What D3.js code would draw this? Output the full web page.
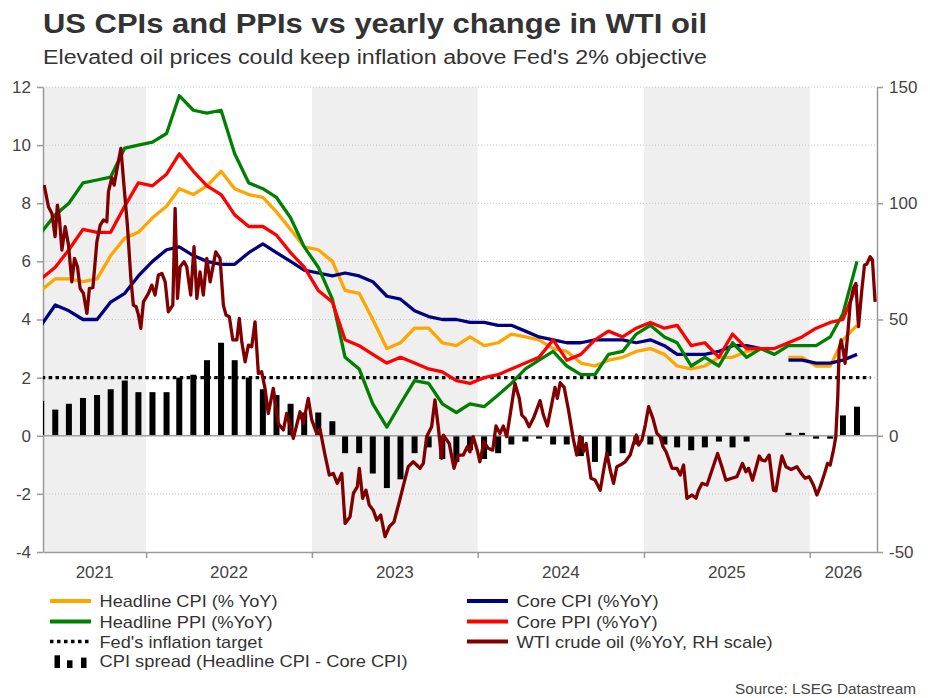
<!DOCTYPE html>
<html><head><meta charset="utf-8">
<script src="https://cdn.jsdelivr.net/npm/d3@7"></script>
<style>
body{margin:0;background:#fff}
svg{display:block}
text{font-family:"Liberation Sans",Arial,Helvetica,sans-serif}
</style>
</head><body>
<svg id="chart" width="930" height="698"></svg>
<script>
// ---------------- DATA ----------------
const months = [
 "2021-05","2021-06","2021-07","2021-08","2021-09","2021-10","2021-11","2021-12",
 "2022-01","2022-02","2022-03","2022-04","2022-05","2022-06","2022-07","2022-08","2022-09","2022-10","2022-11","2022-12",
 "2023-01","2023-02","2023-03","2023-04","2023-05","2023-06","2023-07","2023-08","2023-09","2023-10","2023-11","2023-12",
 "2024-01","2024-02","2024-03","2024-04","2024-05","2024-06","2024-07","2024-08","2024-09","2024-10","2024-11","2024-12",
 "2025-01","2025-02","2025-03","2025-04","2025-05","2025-06","2025-07","2025-08","2025-09","2025-10","2025-11","2025-12",
 "2026-01","2026-02","2026-03","2026-04"];

const headlineCPI = [
 5.0,5.4,5.4,5.3,5.4,6.2,6.8,7.0,
 7.5,7.9,8.5,8.3,8.6,9.1,8.5,8.3,8.2,7.7,7.1,6.5,
 6.4,6.0,5.0,4.9,4.0,3.0,3.2,3.7,3.7,3.2,3.1,3.4,
 3.1,3.2,3.5,3.4,3.3,3.0,2.9,2.5,2.4,2.6,2.7,2.9,
 3.0,2.8,2.4,2.3,2.4,2.7,2.7,2.9,3.0,null,2.7,2.7,
 2.4,2.4,3.3,3.8];

const coreCPI = [
 3.8,4.5,4.3,4.0,4.0,4.6,4.9,5.5,
 6.0,6.4,6.5,6.2,6.0,5.9,5.9,6.3,6.6,6.3,6.0,5.7,
 5.6,5.5,5.6,5.5,5.3,4.8,4.7,4.3,4.1,4.0,4.0,3.9,
 3.9,3.8,3.8,3.6,3.4,3.3,3.2,3.2,3.3,3.3,3.3,3.2,
 3.3,3.1,2.8,2.8,2.8,2.9,3.1,3.1,3.0,null,2.6,2.6,
 2.5,2.5,2.6,2.8];

const headlinePPI = [
 7.0,7.6,8.0,8.7,8.8,8.9,9.9,10.0,
 10.1,10.4,11.7,11.2,11.1,11.2,9.7,8.7,8.5,8.2,7.5,6.5,
 5.8,4.7,2.7,2.3,1.1,0.3,1.1,1.9,1.8,1.1,0.8,1.1,
 1.0,1.4,1.8,2.3,2.6,2.9,2.4,2.1,2.1,2.8,2.9,3.5,
 3.8,3.4,3.2,2.4,2.7,2.4,3.2,2.7,3.0,2.8,3.1,3.1,
 3.1,3.4,4.2,6.0];

const corePPI = [
 5.4,5.8,6.4,7.1,7.0,7.0,7.9,8.7,
 8.6,9.0,9.7,9.1,8.6,8.3,7.6,7.2,7.2,6.9,6.3,5.8,
 5.0,4.6,3.3,3.1,2.8,2.5,2.7,2.5,2.3,2.2,1.9,1.8,
 2.0,2.1,2.3,2.5,2.7,3.3,2.6,2.8,3.3,3.6,3.4,3.7,
 3.9,3.7,3.8,3.1,3.2,2.7,3.5,3.0,3.0,3.0,3.2,3.4,
 3.7,3.9,4.0,5.2];

const cpiSpread = [
 1.2,0.9,1.1,1.3,1.4,1.6,1.9,1.5,
 1.5,1.5,2.0,2.1,2.6,3.2,2.6,2.0,1.6,1.4,1.1,0.8,
 0.8,0.5,-0.6,-0.6,-1.3,-1.8,-1.5,-0.6,-0.4,-0.8,-0.9,-0.5,
 -0.8,-0.6,-0.3,-0.2,-0.1,-0.3,-0.3,-0.7,-0.9,-0.7,-0.6,-0.3,
 -0.3,-0.3,-0.4,-0.5,-0.4,-0.2,-0.4,-0.2,0.0,null,0.1,0.1,
 -0.1,-0.1,0.7,1.0];

// WTI crude oil, % YoY (right-hand scale); dates as decimal years
const wtiDates = [
 2021.385,2021.411,2021.432,2021.451,2021.465,2021.477,2021.492,2021.512,2021.532,2021.552,
 2021.568,2021.586,2021.602,2021.622,2021.643,2021.658,2021.679,2021.703,2021.723,2021.743,
 2021.763,2021.773,2021.793,2021.807,2021.827,2021.848,2021.867,2021.887,2021.908,2021.923,
 2021.940,2021.954,2021.968,2021.984,
 2022.014,2022.034,2022.054,2022.074,2022.095,2022.115,2022.134,2022.161,2022.175,2022.189,
 2022.205,2022.229,2022.245,2022.269,2022.289,2022.306,2022.325,2022.345,2022.366,2022.386,
 2022.420,2022.446,2022.466,2022.482,2022.502,2022.523,2022.547,2022.562,2022.577,2022.597,
 2022.617,2022.637,2022.657,2022.677,2022.697,2022.717,2022.737,2022.767,2022.797,2022.828,
 2022.848,2022.888,2022.928,2022.948,2022.978,2022.999,
 2023.029,2023.049,2023.079,2023.105,2023.129,2023.153,2023.180,2023.200,2023.230,2023.250,
 2023.274,2023.286,2023.306,2023.326,2023.346,2023.370,2023.391,2023.415,2023.441,2023.467,
 2023.495,2023.527,2023.555,2023.581,2023.611,2023.652,2023.672,2023.692,2023.722,2023.742,
 2023.762,2023.782,2023.792,2023.828,2023.857,2023.882,2023.913,2023.937,2023.953,2023.973,
 2023.997,
 2024.013,2024.037,2024.063,2024.090,2024.110,2024.134,2024.154,2024.174,2024.194,2024.224,
 2024.250,2024.265,2024.285,2024.309,2024.335,2024.375,2024.395,2024.419,2024.446,2024.465,
 2024.479,2024.496,2024.520,2024.546,2024.576,2024.596,2024.616,2024.636,2024.652,2024.681,
 2024.706,2024.737,2024.761,2024.777,2024.797,2024.817,2024.837,2024.857,2024.887,2024.917,
 2024.937,2024.954,2024.968,2024.988,
 2025.008,2025.028,2025.054,2025.078,2025.098,2025.115,2025.134,2025.148,2025.169,2025.199,
 2025.219,2025.239,2025.259,2025.289,2025.314,2025.329,2025.350,2025.380,2025.410,2025.444,
 2025.470,2025.494,2025.530,2025.561,2025.594,2025.615,2025.631,2025.655,2025.675,2025.695,
 2025.711,2025.731,2025.755,2025.781,2025.796,2025.816,2025.832,2025.856,2025.888,2025.922,
 2025.948,2025.972,2025.996,
 2026.022,2026.043,2026.063,2026.089,2026.107,2026.123,2026.143,2026.157,2026.169,2026.177,
 2026.189,2026.203,2026.213,2026.230,2026.244,2026.263,2026.278,2026.294,2026.314,2026.330,
 2026.344,2026.364,2026.378,2026.394];

const wtiValues = [
 107.8,98.5,95.6,85.6,99.2,93.5,79.9,89.9,82.0,66.2,
 76.3,72.7,63.4,61.2,52.6,63.4,63.7,83.4,90.6,92.8,
 92.0,105,111,107.8,115.7,123.6,107.1,90.6,67.7,56.2,
 55.5,51.9,46.2,57.6,
 61.2,64.8,60.5,69.1,69.8,66.2,53.3,56.2,97.8,59.1,
 72.7,74.8,72.7,60.5,81.3,59.1,70.5,60.5,76.3,66.2,
 79.1,76.3,56.2,51.9,51.2,41.2,41.2,50.5,40.4,31.8,
 39.0,38.3,49.0,26.8,27.5,20.4,9.6,20.4,5.3,2.5,
 9.6,-1.1,10.3,5.3,16.1,6.8,
 1.0,2.8,-8.3,-16.9,-16.2,-20.5,-16.2,-37.7,-34.8,-24.8,
 -21.9,-14,-26.9,-23.4,-29.8,-32,-36.3,-34.1,-43.4,-39.1,
 -37,-28.4,-20.5,-13.3,-11.2,-14,-11.9,-0.4,3.9,15.4,
 3.9,-9.7,0.3,-3.3,-14,-8.3,-8.3,-4.7,-6.9,-0.4,
 -6.2,
 -11.2,-2.6,-5.4,-6.2,4.2,1.0,4.2,-0.4,8.5,22.5,
 16.1,8.9,7.5,3.9,7.5,15.1,8.9,4.2,13.9,20.8,
 16.1,22.8,20.8,11.1,-1.8,-8.3,-0.4,-6.9,-3.3,-18.3,
 -19,-23.4,-13.3,-7.6,-14.8,-20.5,-13.3,-12.6,-11.2,-8.3,
 -3.3,0.3,-4.0,-1.8,
 4.6,12.5,7.5,1.0,-0.4,-4.7,-7.0,-9.7,-14,-14.0,
 -16.9,-12.6,-26.9,-25.5,-26.9,-23.4,-20.5,-21.2,-14.8,-7.6,
 -13.3,-19.1,-18.3,-17.6,-11.9,-15.5,-14.0,-19.1,-14.0,-8.7,
 -10.5,-10.8,-8.3,-23.4,-23.7,-14.8,-8.7,-13.3,-14.5,-13.3,
 -16.2,-18.3,-17.6,
 -21.2,-25.5,-21.9,-16.2,-11.9,-12.6,-6.2,-0.4,16.8,36.9,
 41.2,36.1,31.1,44.7,56.9,63.4,65.5,46.9,62.7,73.4,
 73.8,77,75.6,57.6];

const fedTarget = 2;
const fedTargetSpan = ["2021-05-01", "2026-05-15"];
const xDomain = ["2021-05-19", "2026-05-29"];
const leftTicks = [-4,-2,0,2,4,6,8,10,12];
const rightTicks = [-50,0,50,100,150];
const yearLabels = [2021,2022,2023,2024,2025,2026];
const shadedYears = [2021,2023,2025];

// ---------------- HELPERS ----------------
const parseDay = d3.timeParse("%Y-%m-%d");
const monthDate = s => { const p = s.split("-").map(Number); return new Date(p[0], p[1]-1, 15); };
const fromDecYear = v => {
  const y = Math.floor(v), s = new Date(y,0,1), e = new Date(y+1,0,1);
  return new Date(+s + (v - y) * (e - s));
};

const M = {left:43, right:877, top:87, bottom:552};
const svg = d3.select("#chart");

const x = d3.scaleTime().domain(xDomain.map(parseDay)).range([M.left, M.right]);
const yL = d3.scaleLinear().domain([-4,12]).range([M.bottom, M.top]);
const yR = d3.scaleLinear().domain([-50,150]).range([M.bottom, M.top]);

svg.append("rect").attr("width",930).attr("height",698).attr("fill","#fff");

svg.append("defs").append("clipPath").attr("id","plotclip")
  .append("rect").attr("x",M.left).attr("y",M.top-5)
  .attr("width",M.right-M.left).attr("height",M.bottom-M.top+10);

// ---------------- TITLES ----------------
svg.append("text").attr("x",43).attr("y",33).attr("font-size",27).attr("font-weight","bold")
  .attr("fill","#333").attr("textLength",664).attr("lengthAdjust","spacingAndGlyphs")
  .text("US CPIs and PPIs vs yearly change in WTI oil");
svg.append("text").attr("x",43).attr("y",63.5).attr("font-size",20)
  .attr("fill","#333").attr("textLength",664).attr("lengthAdjust","spacingAndGlyphs")
  .text("Elevated oil prices could keep inflation above Fed's 2% objective");

// ---------------- BACKGROUND BANDS ----------------
svg.append("g").selectAll("rect").data(shadedYears).join("rect")
  .attr("x", d => Math.max(M.left, x(new Date(d,0,1))))
  .attr("width", d => Math.min(M.right, x(new Date(d+1,0,1))) - Math.max(M.left, x(new Date(d,0,1))))
  .attr("y", M.top).attr("height", M.bottom - M.top)
  .attr("fill", "#efefef");

// grid
svg.append("g").selectAll("line").data(leftTicks.filter(t => t !== -4 && t !== 0)).join("line")
  .attr("x1", M.left).attr("x2", M.right)
  .attr("y1", d => yL(d)).attr("y2", d => yL(d))
  .attr("stroke", "#c4c4c4").attr("stroke-width", 1).attr("stroke-dasharray", "1,2");

// ---------------- AXES ----------------
function styleAxis(g){
  g.attr("font-size", 17).attr("font-family", null);
  g.selectAll("path.domain").attr("stroke", "#9a9a9a").attr("stroke-width", 1.5);
  g.selectAll(".tick line").attr("stroke", "#9a9a9a").attr("stroke-width", 1.5);
  g.selectAll(".tick text").attr("fill", "#444");
}
svg.append("g").attr("transform", `translate(${M.left},0)`)
  .call(d3.axisLeft(yL).tickValues(leftTicks).tickSize(6).tickSizeOuter(0).tickPadding(6).tickFormat(d => String(d)))
  .call(styleAxis);
svg.append("g").attr("transform", `translate(${M.right},0)`)
  .call(d3.axisRight(yR).tickValues(rightTicks).tickSize(6).tickSizeOuter(0).tickPadding(6).tickFormat(d => String(d)))
  .call(styleAxis);
svg.append("g").attr("transform", `translate(0,${M.bottom})`)
  .call(d3.axisBottom(x).tickValues(yearLabels.slice(1).map(y => new Date(y,0,1))).tickSize(6).tickSizeOuter(0).tickFormat(""))
  .call(styleAxis);

// year labels centred in visible part of each year
svg.append("g").selectAll("text").data(yearLabels).join("text")
  .attr("x", d => (Math.max(M.left, x(new Date(d,0,1))) + Math.min(M.right, x(new Date(d+1,0,1)))) / 2)
  .attr("y", 578).attr("text-anchor", "middle").attr("font-size", 17).attr("fill", "#444")
  .text(d => d);

// ---------------- MARKS ----------------
const plot = svg.append("g").attr("clip-path", "url(#plotclip)");
const monthly = months.map((m, i) => ({
  date: monthDate(m), hcpi: headlineCPI[i], ccpi: coreCPI[i],
  hppi: headlinePPI[i], cppi: corePPI[i], spread: cpiSpread[i]
}));

// CPI spread bars
const barW = 6;
plot.append("g").selectAll("rect").data(monthly.filter(d => d.spread !== null)).join("rect")
  .attr("x", d => x(d.date) - barW/2).attr("width", barW)
  .attr("y", d => yL(Math.max(0, d.spread)))
  .attr("height", d => Math.abs(yL(d.spread) - yL(0)))
  .attr("fill", "#000");

// zero line
plot.append("line").attr("x1", M.left).attr("x2", M.right)
  .attr("y1", yL(0)).attr("y2", yL(0)).attr("stroke", "#a0a0a0").attr("stroke-width", 1.5);

// Fed target
plot.append("line")
  .attr("x1", x(parseDay(fedTargetSpan[0]))).attr("x2", x(parseDay(fedTargetSpan[1])))
  .attr("y1", yL(fedTarget)).attr("y2", yL(fedTarget))
  .attr("stroke", "#000").attr("stroke-width", 3.3).attr("stroke-dasharray", "3.5,3.4");

const series = [
  {key:"hcpi", color:"#FFA500"},
  {key:"ccpi", color:"#000080"},
  {key:"hppi", color:"#008000"},
  {key:"cppi", color:"#FF0000"}
];
series.forEach(s => {
  const line = d3.line().defined(d => d[s.key] !== null)
    .x(d => x(d.date)).y(d => yL(d[s.key]));
  plot.append("path").datum(monthly).attr("d", line)
    .attr("fill", "none").attr("stroke", s.color).attr("stroke-width", 3.3)
    .attr("stroke-linejoin", "round");
});

const wti = wtiDates.map((d, i) => ({date: fromDecYear(d), v: wtiValues[i]}));
plot.append("path").datum(wti)
  .attr("d", d3.line().x(d => x(d.date)).y(d => yR(d.v)))
  .attr("fill", "none").attr("stroke", "#800000").attr("stroke-width", 3.3)
  .attr("stroke-linejoin", "round");

// ---------------- LEGEND ----------------
const legendItems = [
  {label:"Headline CPI (% YoY)", type:"line", color:"#FFA500", col:0, row:0, w:178},
  {label:"Core CPI (%YoY)", type:"line", color:"#000080", col:1, row:0, w:142},
  {label:"Headline PPI (%YoY)", type:"line", color:"#008000", col:0, row:1, w:173},
  {label:"Core PPI (%YoY)", type:"line", color:"#FF0000", col:1, row:1, w:141},
  {label:"Fed's inflation target", type:"dot", color:"#000", col:0, row:2, w:163},
  {label:"WTI crude oil (%YoY, RH scale)", type:"line", color:"#800000", col:1, row:2, w:256},
  {label:"CPI spread (Headline CPI - Core CPI)", type:"bar", color:"#000", col:0, row:3, w:308}
];
const colX = [50, 467];
const rowY = [601, 621.5, 641.5, 661];
const lg = svg.append("g");
legendItems.forEach(it => {
  const x0 = colX[it.col], yc = rowY[it.row];
  if (it.type === "line") {
    lg.append("line").attr("x1", x0).attr("x2", x0 + 41).attr("y1", yc).attr("y2", yc)
      .attr("stroke", it.color).attr("stroke-width", 4);
  } else if (it.type === "dot") {
    lg.append("line").attr("x1", x0).attr("x2", x0 + 42).attr("y1", yc).attr("y2", yc)
      .attr("stroke", it.color).attr("stroke-width", 3.5).attr("stroke-dasharray", "3.5,3.5");
  } else {
    [[4.5, 12.7], [17, 7.7], [31, 10.4]].forEach(b => {
      lg.append("rect").attr("x", x0 + b[0]).attr("width", 5.5)
        .attr("y", yc + 7 - b[1]).attr("height", b[1]).attr("fill", it.color);
    });
  }
  lg.append("text").attr("x", x0 + 49.5).attr("y", yc + 6).attr("font-size", 17)
    .attr("fill", "#333").attr("textLength", it.w).attr("lengthAdjust", "spacingAndGlyphs")
    .text(it.label);
});

svg.append("text").attr("x", 916).attr("y", 694).attr("text-anchor", "end")
  .attr("font-size", 15.5).attr("fill", "#444")
  .attr("textLength", 181).attr("lengthAdjust", "spacingAndGlyphs")
  .text("Source: LSEG Datastream");
</script>
</body></html>
